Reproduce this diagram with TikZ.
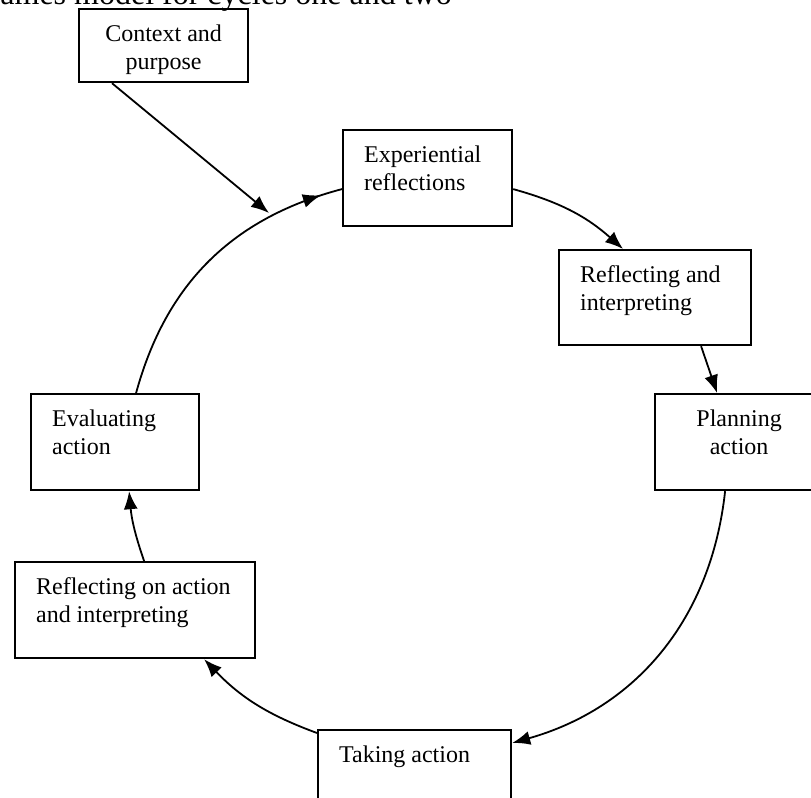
\documentclass[tikz,border=0pt]{standalone}
\usepackage{fontspec}
\setmainfont{Liberation Serif}
\usetikzlibrary{arrows.meta,calc,decorations.markings}

\newcommand{\lbx}[3]{\parbox[c][#2][t]{#1}{\vspace*{6.45pt}\raggedright\leftskip=10.5pt\relax\strut #3}}
\newcommand{\cbx}[3]{\parbox[c][#2][t]{#1}{\vspace*{6.45pt}\centering\strut #3}}

\begin{document}
\begin{tikzpicture}[x=0.5pt,y=-0.5pt,
  box/.style={draw, line width=1.1pt, inner sep=0pt, anchor=north west, font=\fontsize{12}{14}\selectfont},
  link/.style={line width=0.9pt, -{Latex[length=9pt,width=7pt]}},
  midarrow/.style={line width=0.9pt, decoration={markings, mark=at position -11pt with {\arrow{Latex[length=9pt,width=7pt]}}}, postaction={decorate}}
]
\useasboundingbox (0,0) rectangle (811,798);
\clip (0,0) rectangle (811,798);

\node[anchor=base west, font=\fontsize{16}{19}\selectfont, inner sep=0pt] (title) at (0,4) {ames model for cycles one and two};

\node[box] (ctx)  at (78,8)    {\cbx{84.5pt}{36.5pt}{Context and\\purpose}};
\node[box] (exp)  at (342,129) {\lbx{84.5pt}{48pt}{Experiential\\reflections}};
\node[box] (ri)   at (558,249) {\lbx{96pt}{47.5pt}{Reflecting and\\interpreting}};
\node[box] (plan) at (654,393) {\cbx{84pt}{48pt}{Planning\\action}};
\node[box] (eval) at (30,393)  {\lbx{84pt}{48pt}{Evaluating\\action}};
\node[box] (ron)  at (14,561)  {\lbx{120pt}{48pt}{Reflecting on action\\and interpreting}};
\node[box] (take) at (317,729) {\lbx{96.5pt}{48pt}{Taking action}};

\coordinate (ctxend) at (269,213);
\draw[link] ([xshift=17pt]ctx.south west) -- (ctxend);

\draw[midarrow] ([xshift=10.5pt]eval.north) to[bend left=30] ([yshift=-5.5pt]exp.west);
\draw[link] ([yshift=-5.5pt]exp.east) to[bend left=13] ([xshift=-16pt]ri.north);
\draw[link] ([xshift=23pt]ri.south) -- ([xshift=-11pt]plan.north);
\draw[link] ([xshift=-7pt]plan.south) to[bend left=34] ([yshift=-7pt]take.north east);
\draw[link] ([yshift=-2pt]take.north west) to[bend left=13] ([xshift=34.5pt]ron.south);
\draw[link] ([xshift=4.5pt]ron.north) to[bend left=7] ([xshift=7pt]eval.south);
\end{tikzpicture}
\end{document}
